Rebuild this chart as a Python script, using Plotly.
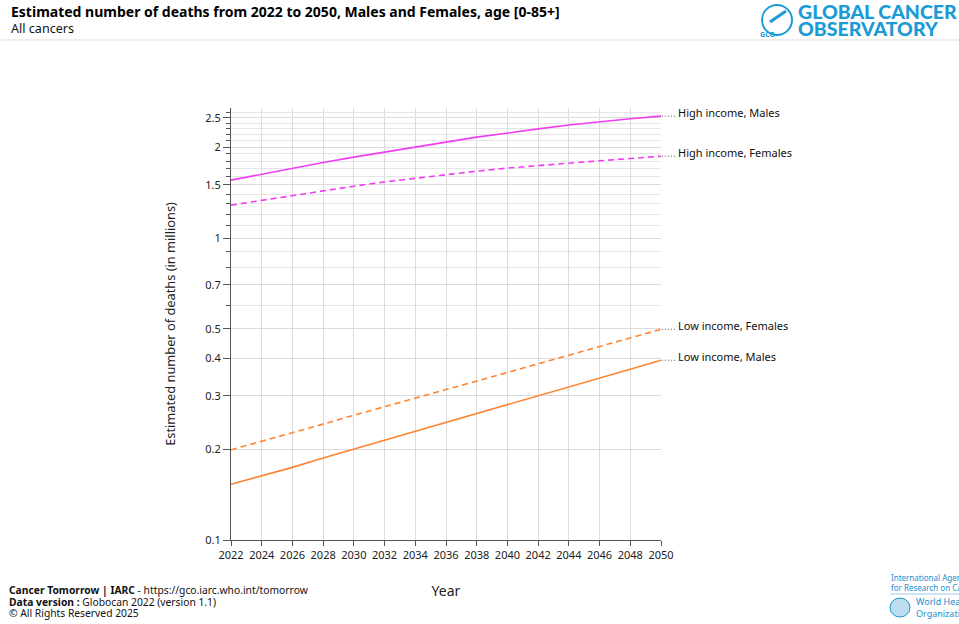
import math
import plotly.graph_objects as go

years = [2022, 2024, 2026, 2028, 2030, 2032, 2034, 2036, 2038, 2040, 2042, 2044, 2046, 2048, 2050]
high_males = [1.556, 1.63, 1.70, 1.78, 1.855, 1.93, 2.01, 2.08, 2.16, 2.235, 2.30, 2.37, 2.43, 2.485, 2.535]
high_females = [1.286, 1.335, 1.385, 1.435, 1.486, 1.535, 1.58, 1.625, 1.667, 1.706, 1.74, 1.773, 1.804, 1.835, 1.868]
low_females = [0.199, 0.212, 0.227, 0.242, 0.259, 0.276, 0.295, 0.315, 0.336, 0.359, 0.383, 0.409, 0.437, 0.467, 0.499]
low_males = [0.153, 0.163, 0.174, 0.187, 0.200, 0.214, 0.229, 0.245, 0.262, 0.281, 0.300, 0.321, 0.344, 0.368, 0.394]

series = [
    ("High income, Males", high_males, "#f23cf2", "solid"),
    ("High income, Females", high_females, "#f23cf2", "dash"),
    ("Low income, Females", low_females, "#ff8433", "dash"),
    ("Low income, Males", low_males, "#ff8433", "solid"),
]

y_ticks = [0.1, 0.2, 0.3, 0.4, 0.5, 0.7, 1, 1.5, 2, 2.5]
y_tick_text = ["0.1", "0.2", "0.3", "0.4", "0.5", "0.7", "1", "1.5", "2", "2.5"]
y_minor = [0.6, 0.8, 0.9, 1.1, 1.2, 1.3, 1.4, 1.6, 1.7, 1.8, 1.9, 2.1, 2.2, 2.3, 2.4, 2.6]

FONT = "Noto Sans"
L, T, W, H = 231, 108, 430, 432


def px(xp):
    return (xp - L) / W


def py(yp):
    return (T + H - yp) / H


fig = go.Figure()

for name, vals, color, dash in series:
    fig.add_trace(go.Scatter(x=years, y=vals, mode="lines", name=name,
                             line=dict(color=color, width=1.6,
                                       dash="solid" if dash == "solid" else "6px,4px"),
                             hoverinfo="skip", showlegend=False))
    # shapes on log axes take data values
    fig.add_shape(type="line", xref="paper", yref="y", x0=1.002, x1=px(676),
                  y0=vals[-1], y1=vals[-1],
                  line=dict(color="#555555", width=1, dash="1px,2px"))
    fig.add_annotation(xref="paper", yref="y", x=px(676), y=math.log10(vals[-1]), text=name,
                       showarrow=False, xanchor="left", yanchor="middle", yshift=4,
                       font=dict(size=11, color="#111111", family=FONT))

fig.update_layout(
    width=959, height=624,
    margin=dict(l=L, r=959 - L - W, t=T, b=624 - T - H),
    paper_bgcolor="white", plot_bgcolor="white",
    font=dict(family=FONT, color="#222222"),
    xaxis=dict(range=[2022, 2050], tickvals=years, ticktext=[str(y) for y in years],
               showgrid=True, gridcolor="#dcdcdc", gridwidth=1,
               showline=True, linecolor="#555555", linewidth=1,
               ticks="outside", ticklen=5, tickcolor="#555555",
               tickfont=dict(size=11, color="#222222"),
               title=dict(text="Year", font=dict(size=14, color="#222222"), standoff=24),
               zeroline=False),
    yaxis=dict(type="log", range=[-1, 0.431],
               tickvals=y_ticks, ticktext=y_tick_text,
               showgrid=True, gridcolor="#dcdcdc", gridwidth=1,
               showline=True, linecolor="#555555", linewidth=1,
               ticks="outside", ticklen=7, tickcolor="#555555",
               tickfont=dict(size=11, color="#222222"),
               minor=dict(tickvals=y_minor, ticks="outside", ticklen=4, tickcolor="#555555",
                          showgrid=True, gridcolor="#e6e6e6"),
               title=dict(text="Estimated number of deaths (in millions)",
                          font=dict(size=12.8, color="#222222"), standoff=26),
               zeroline=False),
)

# Header
fig.add_annotation(xref="paper", yref="paper", x=px(9), y=py(12),
                   text="<b>Estimated number of deaths from 2022 to 2050, Males and Females, age [0-85+]</b>",
                   showarrow=False, xanchor="left", yanchor="middle",
                   font=dict(size=14, color="#000000", family=FONT, weight=800))
fig.add_annotation(xref="paper", yref="paper", x=px(9), y=py(28),
                   text="All cancers", showarrow=False, xanchor="left", yanchor="middle",
                   font=dict(size=12.6, color="#111111", family=FONT))
fig.add_shape(type="line", xref="paper", yref="paper", x0=px(0), x1=px(959),
              y0=py(40), y1=py(40), line=dict(color="#dddddd", width=1))

# GCO logo
cx, cy, r = 777, 20, 15
fig.add_shape(type="circle", xref="paper", yref="paper",
              x0=px(cx - r), x1=px(cx + r), y0=py(cy + r), y1=py(cy - r),
              line=dict(color="#1a9ad6", width=2))
fig.add_shape(type="line", xref="paper", yref="paper",
              x0=px(770), x1=px(786), y0=py(22), y1=py(11), line=dict(color="#1a9ad6", width=3))
fig.add_annotation(xref="paper", yref="paper", x=px(cx), y=py(cy + 8), text="<b>GCO</b>",
                   showarrow=False, font=dict(size=7, color="#1a9ad6", family=FONT))
fig.add_annotation(xref="paper", yref="paper", x=px(796), y=py(12),
                   text="GLOBAL CANCER", showarrow=False, xanchor="left", yanchor="middle",
                   font=dict(size=19.5, color="#1a9ad6", family="Lato", weight=900))
fig.add_annotation(xref="paper", yref="paper", x=px(796), y=py(29),
                   text="OBSERVATORY", showarrow=False, xanchor="left", yanchor="middle",
                   font=dict(size=19.5, color="#1a9ad6", family="Lato", weight=900))

# Footer
footer = [
    (590, "<b>Cancer Tomorrow | IARC</b> - https://gco.iarc.who.int/tomorrow"),
    (602, "<b>Data version :</b> Globocan 2022 (version 1.1)"),
    (613, "© All Rights Reserved 2025"),
]
for yp, t in footer:
    fig.add_annotation(xref="paper", yref="paper", x=px(7), y=py(yp), text=t, showarrow=False,
                       xanchor="left", yanchor="middle",
                       font=dict(size=10.3, color="#111111", family=FONT))

fig.add_annotation(xref="paper", yref="paper", x=px(889), y=py(582),
                   text="International Agency<br>for Research on Cancer", showarrow=False,
                   xanchor="left", yanchor="middle", align="left",
                   font=dict(size=8, color="#1a8fd0", family=FONT))
fig.add_shape(type="line", xref="paper", yref="paper", x0=px(890), x1=px(959),
              y0=py(594), y1=py(594), line=dict(color="#9cc9e6", width=1))
fig.add_shape(type="circle", xref="paper", yref="paper",
              x0=px(890), x1=px(910), y0=py(617), y1=py(598),
              line=dict(color="#1a8fd0", width=1), fillcolor="#bcdcf0")
fig.add_annotation(xref="paper", yref="paper", x=px(914), y=py(607),
                   text="World Health<br>Organization", showarrow=False,
                   xanchor="left", yanchor="middle", align="left",
                   font=dict(size=9, color="#1a8fd0", family=FONT))

fig.write_html("out.html", config={"displayModeBar": False},
               post_script="document.body.style.margin='0';")
